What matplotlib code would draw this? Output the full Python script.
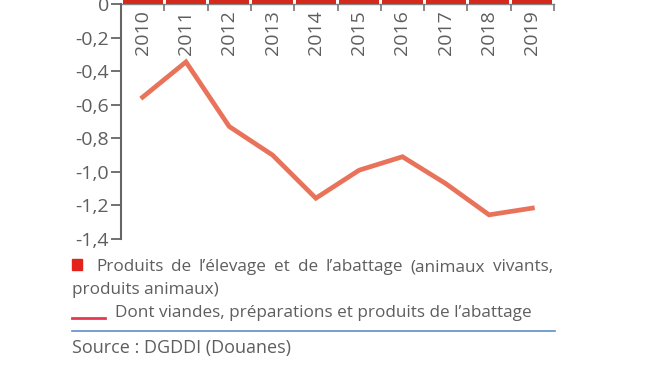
import matplotlib
matplotlib.use("Agg")
import matplotlib.pyplot as plt
from matplotlib.patches import Rectangle
from matplotlib.lines import Line2D

years = ["2010", "2011", "2012", "2013", "2014", "2015", "2016", "2017", "2018", "2019"]
# bars (clipped above the visible area in the reference)
produits_elevage = [0.3, 0.3, 0.3, 0.3, 0.3, 0.3, 0.3, 0.3, 0.3, 0.3]
dont_viandes = [-0.555, -0.345, -0.73, -0.90, -1.157, -0.99, -0.91, -1.07, -1.256, -1.216]
yticks = [0, -0.2, -0.4, -0.6, -0.8, -1.0, -1.2, -1.4]
ytick_labels = ["0", "-0,2", "-0,4", "-0,6", "-0,8", "-1,0", "-1,2", "-1,4"]

FONT = "Open Sans"
TXT = "#5e5e5e"
plt.rcParams["font.family"] = [FONT, "DejaVu Sans"]

fig = plt.figure(figsize=(6.5, 3.66), dpi=100)
W, H = 650, 366
left, right, top, bottom = 121, 554, 4, 239
ax = fig.add_axes([left / W, 1 - bottom / H, (right - left) / W, (bottom - top) / H])

x = list(range(len(years)))
ax.bar(x, produits_elevage, width=0.93, color="#d42a1e", clip_on=False, zorder=2)
ax.plot(x, dont_viandes, color="#e8735a", lw=3.4, solid_joinstyle="miter", zorder=3)

ax.set_xlim(-0.5, len(years) - 0.5)
ax.set_ylim(-1.4, 0)
ax.set_yticks(yticks)
ax.set_yticklabels(ytick_labels, fontsize=14, color=TXT)
ax.tick_params(axis="y", length=7, width=1.3, color="#666666", pad=1.5)

for s in ["right", "bottom"]:
    ax.spines[s].set_visible(False)
ax.spines["left"].set_color("#666666")
ax.spines["left"].set_linewidth(1.5)
ax.spines["top"].set_color("#888888")
ax.spines["top"].set_linewidth(1.0)
ax.spines["top"].set_zorder(1)

ax.xaxis.tick_top()
ax.set_xticks([i + 0.5 for i in x[:-1]] + [len(years) - 0.5])
ax.set_xticklabels([])
ax.tick_params(axis="x", direction="in", length=5, width=1.2, color="#777777")

for i, y in zip(x, years):
    ax.text(i, -0.035, y, rotation=90, ha="center", va="top", fontsize=14, color=TXT)

# legend / footer
LFS = 12.3
fig.patches.append(Rectangle((72 / W, 1 - 270 / H), 10 / W, 11 / H,
                             transform=fig.transFigure, color="#e3231b"))

# justified first legend line between x=96 and x=553
words = "Produits de l’élevage et de l’abattage (animaux vivants,".split(" ")
renderer = fig.canvas.get_renderer()
tmp = [fig.text(0, 0, w, fontsize=LFS) for w in words]
widths = [t.get_window_extent(renderer).width for t in tmp]
for t in tmp:
    t.remove()
x0, x1 = 96, 553
gap = (x1 - x0 - sum(widths)) / (len(words) - 1)
cx = x0
for w, wd in zip(words, widths):
    fig.text(cx / W, 1 - 271 / H, w, fontsize=LFS, color=TXT, va="baseline", ha="left")
    cx += wd + gap

fig.text(72 / W, 1 - 294 / H, "produits animaux)", fontsize=LFS, color=TXT,
         va="baseline", ha="left")
fig.lines.append(Line2D([72 / W, 105 / W], [1 - 318 / H, 1 - 318 / H],
                        transform=fig.transFigure, color="#e8384f", lw=2))
fig.text(115 / W, 1 - 317 / H, "Dont viandes, préparations et produits de l’abattage",
         fontsize=LFS, color=TXT, va="baseline", ha="left")
fig.lines.append(Line2D([72 / W, 555 / W], [1 - 331 / H, 1 - 331 / H],
                        transform=fig.transFigure, color="#5b8fc7", lw=1.2))
fig.text(72 / W, 1 - 353 / H, "Source : DGDDI (Douanes)", fontsize=13, color=TXT,
         va="baseline", ha="left")

fig.savefig("out.png", dpi=100)
